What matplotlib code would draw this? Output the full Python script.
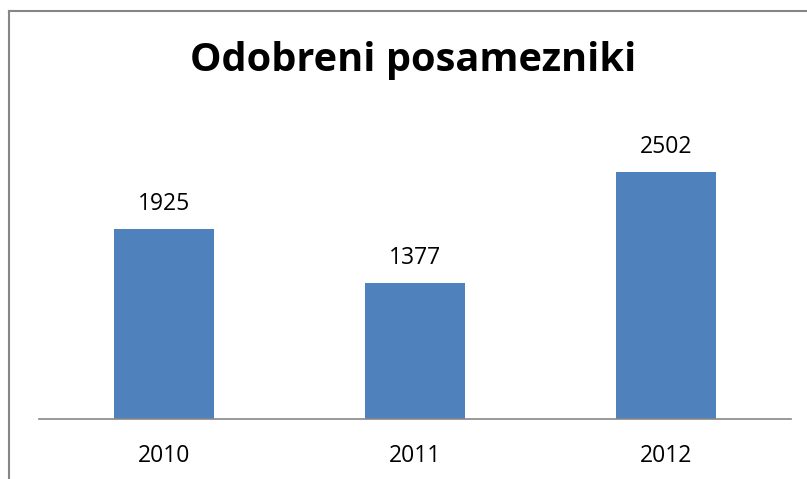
import matplotlib
matplotlib.use("Agg")
import matplotlib.pyplot as plt
from matplotlib.lines import Line2D

categories = ["2010", "2011", "2012"]
values = [1925, 1377, 2502]
title = "Odobreni posamezniki"

W, H = 807, 479
fig = plt.figure(figsize=(W / 100, H / 100), dpi=100)
plt.rcParams['font.family'] = ['Open Sans', 'DejaVu Sans']

# axes in pixel coordinates: x 39..791, y baseline 418, top 123 (0..3000)
left, right, bottom, top = 39, 791, 418.5, 123.5
ax = fig.add_axes([left / W, 1 - bottom / H, (right - left) / W, (bottom - top) / H])
x = range(len(categories))
ax.bar(x, values, width=0.4, color="#4F81BD", zorder=2)
ax.set_xlim(-0.5, len(categories) - 0.5)
ax.set_ylim(0, 3000)
for s in ["top", "right", "left"]:
    ax.spines[s].set_visible(False)
ax.spines["bottom"].set_color("#878787")
ax.spines["bottom"].set_linewidth(1.2)
ax.set_yticks([])
ax.set_xticks(list(x))
ax.set_xticklabels(categories, fontsize=16.5)
ax.tick_params(axis="x", length=0, pad=18)
for xi, v in zip(x, values):
    ax.annotate(str(v), (xi, v), xytext=(0, 13.7), textcoords="offset points",
                ha="center", va="baseline", fontsize=16.5)

fig.text(413.5 / W, 1 - 60 / H, title, ha="center", va="center",
         fontsize=28.6, fontweight="bold")

# outer chart border (left and top visible)
fig.add_artist(Line2D([9 / W, 9 / W], [0, 1 - 11 / H], transform=fig.transFigure,
                      color="#868686", linewidth=1.5))
fig.add_artist(Line2D([9 / W, 1], [1 - 11 / H, 1 - 11 / H], transform=fig.transFigure,
                      color="#868686", linewidth=1.5))

fig.savefig("out.png", dpi=100)
